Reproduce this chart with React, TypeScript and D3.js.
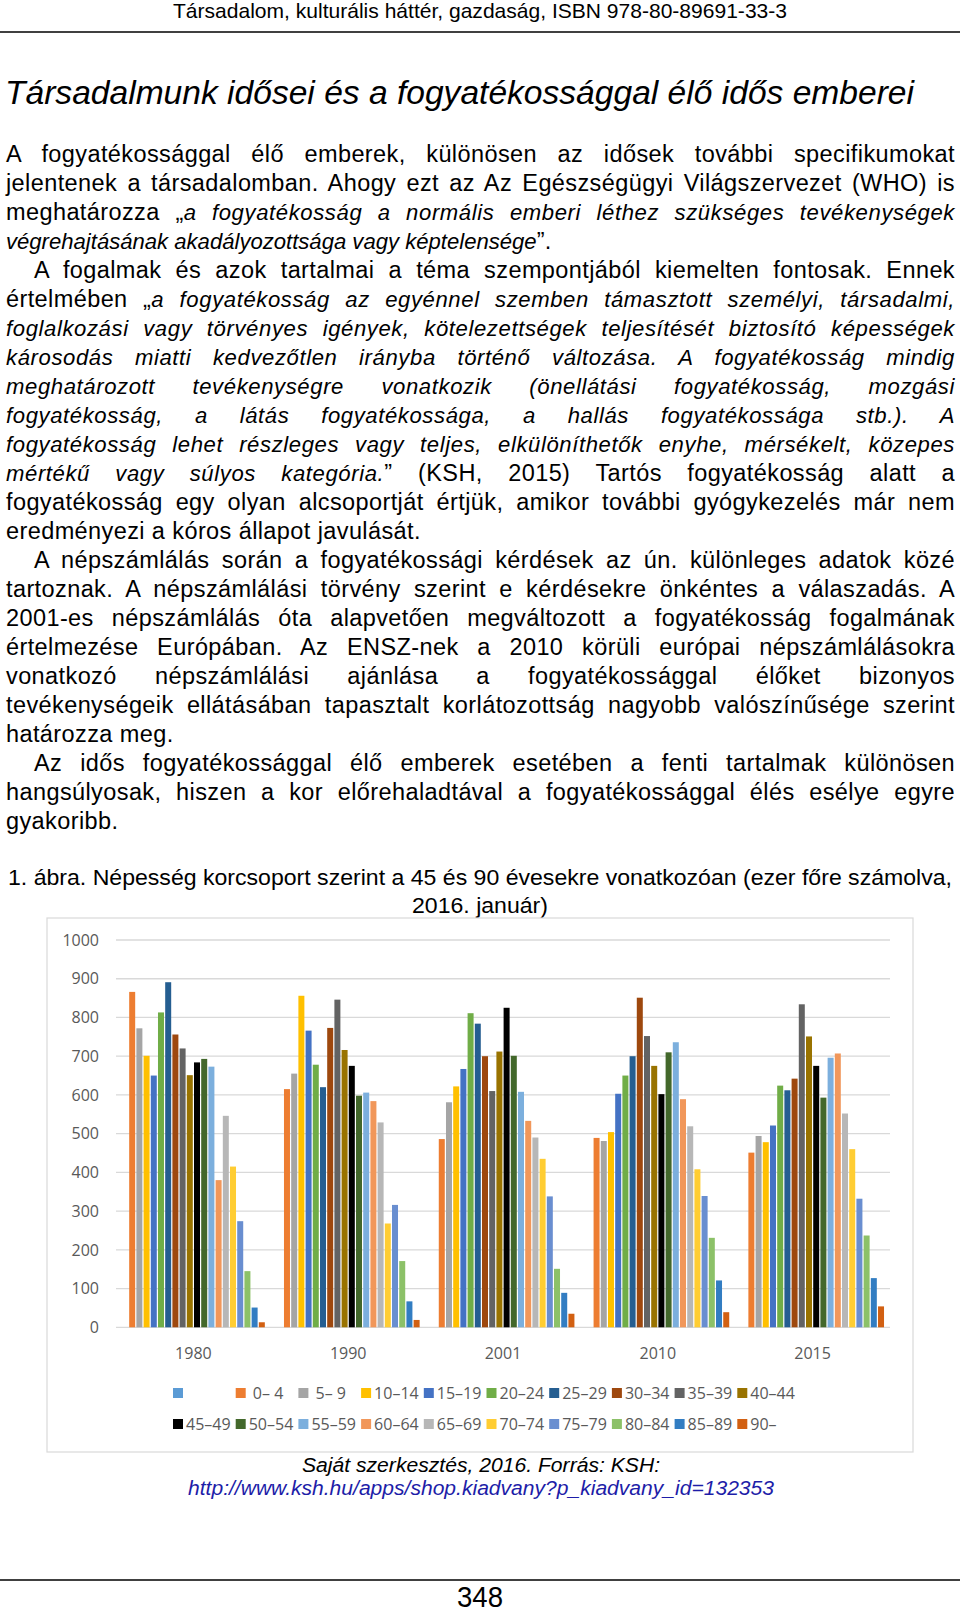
import * as d3 from 'd3';
import React, { useRef, useEffect } from 'react';

// chart data
const years = ['1980', '1990', '2001', '2010', '2015'];
const ageGroups = ['', ' 0– 4', ' 5– 9', '10–14', '15–19', '20–24', '25–29', '30–34', '35–39', '40–44',
  '45–49', '50–54', '55–59', '60–64', '65–69', '70–74', '75–79', '80–84', '85–89', '90–'];
const groupColors = ['#5B9BD5', '#ED7D31', '#A5A5A5', '#FFC000', '#4472C4', '#70AD47', '#255E91', '#9E480E',
  '#636363', '#997300', '#000000', '#43682B', '#7CAFDD', '#F1975A', '#B7B7B7', '#FFCD33', '#698ED0',
  '#8CC168', '#327DC2', '#D26012'];
// first (unnamed) series has no values
const v1980 = [866, 772, 701, 650, 813, 891, 756, 720, 651, 684, 693, 673, 380, 546, 415, 274, 145, 51, 13];
const v1990 = [615, 655, 856, 766, 678, 620, 773, 846, 716, 675, 598, 606, 584, 529, 268, 316, 171, 67, 19];
const v2001 = [486, 581, 622, 667, 811, 784, 700, 610, 712, 825, 701, 608, 533, 490, 435, 338, 151, 89, 35];
const v2010 = [489, 481, 504, 603, 650, 700, 851, 752, 675, 602, 710, 736, 589, 519, 408, 339, 231, 121, 39];
const v2015 = [451, 494, 478, 521, 624, 612, 642, 834, 751, 675, 593, 696, 707, 552, 460, 332, 237, 127, 54];
const yTicks = [0, 100, 200, 300, 400, 500, 600, 700, 800, 900, 1000];

// page text: [text, italic] segments per line
type Seg = [string, boolean];
type Line = { segs: Seg[]; justify: boolean; indent?: boolean };
const bodyLines: Line[] = [
  { segs: [['A fogyatékossággal élő emberek, különösen az idősek további specifikumokat', false]], justify: true },
  { segs: [['jelentenek a társadalomban. Ahogy ezt az Az Egészségügyi Világszervezet (WHO) is', false]], justify: true },
  { segs: [['meghatározza „', false], ['a fogyatékosság a normális emberi léthez szükséges tevékenységek', true]], justify: true },
  { segs: [['végrehajtásának akadályozottsága vagy képtelensége', true], ['”.', false]], justify: false },
  { segs: [['A fogalmak és azok tartalmai a téma szempontjából kiemelten fontosak. Ennek', false]], justify: true, indent: true },
  { segs: [['értelmében „', false], ['a fogyatékosság az egyénnel szemben támasztott személyi, társadalmi,', true]], justify: true },
  { segs: [['foglalkozási vagy törvényes igények, kötelezettségek teljesítését biztosító képességek', true]], justify: true },
  { segs: [['károsodás miatti kedvezőtlen irányba történő változása. A fogyatékosság mindig', true]], justify: true },
  { segs: [['meghatározott tevékenységre vonatkozik (önellátási fogyatékosság, mozgási', true]], justify: true },
  { segs: [['fogyatékosság, a látás fogyatékossága, a hallás fogyatékossága stb.). A', true]], justify: true },
  { segs: [['fogyatékosság lehet részleges vagy teljes, elkülöníthetők enyhe, mérsékelt, közepes', true]], justify: true },
  { segs: [['mértékű vagy súlyos kategória.', true], ['” (KSH, 2015) Tartós fogyatékosság alatt a', false]], justify: true },
  { segs: [['fogyatékosság egy olyan alcsoportját értjük, amikor további gyógykezelés már nem', false]], justify: true },
  { segs: [['eredményezi a kóros állapot javulását.', false]], justify: false },
  { segs: [['A népszámlálás során a fogyatékossági kérdések az ún. különleges adatok közé', false]], justify: true, indent: true },
  { segs: [['tartoznak. A népszámlálási törvény szerint e kérdésekre önkéntes a válaszadás. A', false]], justify: true },
  { segs: [['2001-es népszámlálás óta alapvetően megváltozott a fogyatékosság fogalmának', false]], justify: true },
  { segs: [['értelmezése Európában. Az ENSZ-nek a 2010 körüli európai népszámlálásokra', false]], justify: true },
  { segs: [['vonatkozó népszámlálási ajánlása a fogyatékossággal élőket bizonyos', false]], justify: true },
  { segs: [['tevékenységeik ellátásában tapasztalt korlátozottság nagyobb valószínűsége szerint', false]], justify: true },
  { segs: [['határozza meg.', false]], justify: false },
  { segs: [['Az idős fogyatékossággal élő emberek esetében a fenti tartalmak különösen', false]], justify: true, indent: true },
  { segs: [['hangsúlyosak, hiszen a kor előrehaladtával a fogyatékossággal élés esélye egyre', false]], justify: true },
  { segs: [['gyakoribb.', false]], justify: false },
];

const W = 960;
const H = 1613;
const textLeft = 6;
const textRight = 955;
const sans = '"Liberation Sans", Arial, sans-serif';
const narrow = '"Liberation Sans Narrow", "Liberation Sans", Arial, sans-serif';
const chartFont = '"Open Sans", Lato, sans-serif';

function App() {
  const ref = useRef<SVGSVGElement>(null);

  const values = [v1980, v1990, v2001, v2010, v2015];
  const x0 = d3.scaleBand().domain(years).range([116, 890]).padding(0);
  const x1 = d3.scaleBand().domain(ageGroups).range([0, x0.bandwidth()]).paddingInner(0.167).paddingOuter(0.83);
  const y = d3.scaleLinear().domain([0, 1000]).range([1327.3, 940]);

  useEffect(() => {
    const justify = () => {
      d3.select(ref.current).selectAll<SVGTextElement, unknown>('text.just').each(function () {
        this.setAttribute('word-spacing', '0');
        const target = +this.getAttribute('data-w')!;
        const natural = this.getComputedTextLength();
        const spaces = (this.textContent || '').split(' ').length - 1;
        if (spaces > 0) this.setAttribute('word-spacing', String(Math.max(0, (target - natural) / spaces)));
      });
    };
    justify();
    if ((document as any).fonts) (document as any).fonts.ready.then(justify);
  }, []);

  const legendItems = ageGroups.map((g, i) => ({ g, i, row: Math.floor(i / 10), col: i % 10 }));

  return (
    <svg ref={ref} width={W} height={H} style={{ position: 'absolute', left: 0, top: 0, display: 'block', background: '#fff' }}>
      {/* running header */}
      <text x={173} y={18} fontFamily={narrow} fontSize={21} textLength={614} lengthAdjust="spacingAndGlyphs">
        Társadalom, kulturális háttér, gazdaság, ISBN 978-80-89691-33-3
      </text>
      <line x1={0} x2={W} y1={32} y2={32} stroke="#000" strokeWidth={1.5} />

      <text x={5} y={104} fontFamily={sans} fontSize={34} fontStyle="italic" textLength={909} lengthAdjust="spacingAndGlyphs">
        Társadalmunk idősei és a fogyatékossággal élő idős emberei
      </text>

      {bodyLines.map((ln, i) => {
        const x = ln.indent ? 34 : textLeft;
        return (
          <text key={i} className={ln.justify ? 'just' : undefined} data-w={textRight - x}
            x={x} y={162 + i * 29} fontFamily={sans} xmlSpace="preserve" style={{ whiteSpace: 'pre' }}>
            {ln.segs.map((s, j) => (
              <tspan key={j} fontStyle={s[1] ? 'italic' : 'normal'} fontSize={s[1] ? 22.1 : 23.5}
                letterSpacing={s[1] ? (ln.justify ? 0.6 : 0) : 0.4}>{s[0]}</tspan>
            ))}
          </text>
        );
      })}

      {/* caption */}
      <text x={8} y={885} fontFamily={narrow} fontSize={22.5} textLength={944} lengthAdjust="spacingAndGlyphs">
        1. ábra. Népesség korcsoport szerint a 45 és 90 évesekre vonatkozóan (ezer főre számolva,
      </text>
      <text x={480} y={913} textAnchor="middle" fontFamily={narrow} fontSize={22.5} textLength={136} lengthAdjust="spacingAndGlyphs">
        2016. január)
      </text>

      {/* chart */}
      <rect x={47} y={918} width={866} height={534} fill="#fff" stroke="#d9d9d9" strokeWidth={1.2} />
      <g>
        {yTicks.map(t => (
          <g key={t}>
            <line x1={116} x2={890} y1={y(t)} y2={y(t)} stroke="#d9d9d9" strokeWidth={1.3} />
            <text x={99} y={y(t)} dy="0.36em" textAnchor="end" fontFamily={chartFont} fontSize={16} fill="#595959">{t}</text>
          </g>
        ))}
      </g>
      <g>
        {years.map((yr, yi) => (
          <g key={yr} transform={`translate(${x0(yr)},0)`}>
            {values[yi].map((v, k) => {
              const g = ageGroups[k + 1];
              return (
                <rect key={g} x={x1(g)} y={y(v)} width={x1.bandwidth()} height={y(0) - y(v)} fill={groupColors[k + 1]} />
              );
            })}
            <text x={x0.bandwidth() / 2} y={1359} textAnchor="middle" fontFamily={chartFont} fontSize={16} fill="#595959">{yr}</text>
          </g>
        ))}
      </g>
      <g>
        {legendItems.map(d => {
          const lx = 173 + d.col * 62.7;
          const ly = d.row === 0 ? 1393 : 1424;
          return (
            <g key={d.i}>
              <rect x={lx} y={ly - 5} width={10} height={10} fill={groupColors[d.i]} />
              <text x={lx + 13} y={ly} dy="0.36em" fontFamily={chartFont} fontSize={16} fill="#595959"
                xmlSpace="preserve" style={{ whiteSpace: 'pre' }}>{d.g}</text>
            </g>
          );
        })}
      </g>

      {/* source */}
      <text x={302} y={1472} fontFamily={sans} fontStyle="italic" fontSize={20.5} textLength={358} lengthAdjust="spacingAndGlyphs">
        Saját szerkesztés, 2016. Forrás: KSH:
      </text>
      <text x={188} y={1495} fontFamily={sans} fontStyle="italic" fontSize={20.5} fill="#1d1da8" textLength={586} lengthAdjust="spacingAndGlyphs">
        http://www.ksh.hu/apps/shop.kiadvany?p_kiadvany_id=132353
      </text>

      {/* footer */}
      <line x1={0} x2={W} y1={1580} y2={1580} stroke="#000" strokeWidth={1.5} />
      <text x={480} y={1607} textAnchor="middle" fontFamily={narrow} fontSize={29} textLength={46} lengthAdjust="spacingAndGlyphs">348</text>
    </svg>
  );
}

export default App;
